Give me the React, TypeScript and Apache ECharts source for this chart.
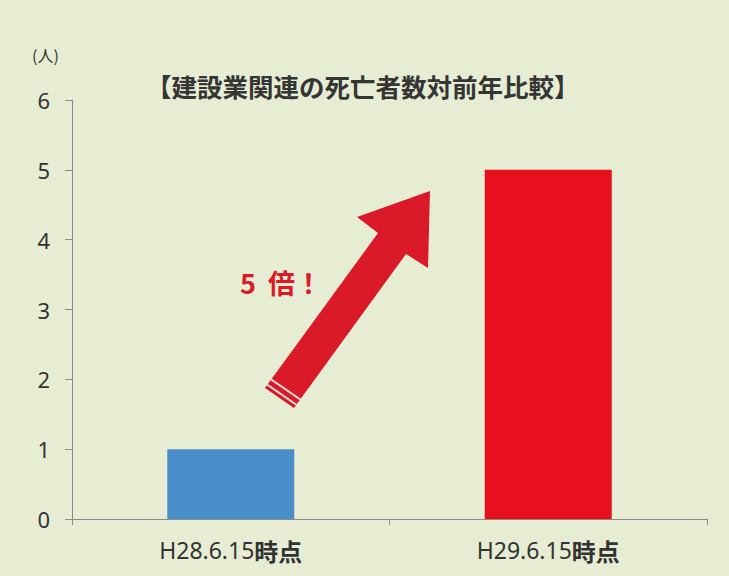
import React, { useEffect, useRef } from "react";
import * as echarts from "echarts";

const categories = ["H28.6.15時点", "H29.6.15時点"];
const deaths = [1, 5];
const barColors = ["#4a8fcb", "#e8101c"];
const yTicks = [0, 1, 2, 3, 4, 5, 6];
const titleText = "【建設業関連の死亡者数対前年比較】";
const unitText = "(人)";
const noteNumber = "5";
const noteWord = "倍！";

export default function App() {
  const ref = useRef<HTMLDivElement>(null);
  useEffect(() => {
    if (!ref.current) return;
    const chart = echarts.init(ref.current, undefined, { renderer: "svg" });
    const arrowRed = "#da1a28";
    chart.setOption({
      animation: false,
      backgroundColor: "#e7edd3",
      grid: { left: 72, right: 22, top: 100, bottom: 57 },
      xAxis: {
        type: "category",
        data: categories,
        axisLine: { lineStyle: { color: "#8a8a8a", width: 1 } },
        axisTick: { show: true, length: 6, lineStyle: { color: "#8a8a8a" } },
        axisLabel: {
          margin: 19,
          formatter: (v: string) => {
            const m = v.match(/^([^\u3000-\u9fff]+)(.*)$/);
            return m ? `{a|${m[1]}}{b|${m[2]}}` : v;
          },
          rich: {
            a: { fontFamily: "Noto Sans", fontSize: 23, color: "#333" },
            b: { fontFamily: "Noto Sans CJK JP", fontSize: 24, fontWeight: "bold", color: "#333" },
          },
        },
      },
      yAxis: {
        type: "value",
        min: yTicks[0],
        max: yTicks[yTicks.length - 1],
        interval: 1,
        axisLine: { show: true, lineStyle: { color: "#8a8a8a", width: 1 } },
        axisTick: { show: true, length: 7, lineStyle: { color: "#8a8a8a" } },
        splitLine: { show: false },
        axisLabel: { margin: 22, fontFamily: "Noto Sans", fontSize: 22, color: "#333" },
      },
      series: [
        {
          type: "bar",
          barWidth: "40%",
          data: deaths.map((v, i) => ({ value: v, itemStyle: { color: barColors[i] } })),
        },
      ],
      graphic: [
        {
          type: "text",
          left: 146,
          top: 73,
          style: {
            text: titleText,
            fontFamily: "Noto Sans CJK JP",
            fontSize: 25.5,
            fontWeight: "bold",
            fill: "#353535",
          },
        },
        {
          type: "text",
          left: 32,
          top: 47,
          style: { text: unitText, fontFamily: "Noto Sans CJK JP", fontSize: 16, fill: "#333" },
        },
        {
          type: "polygon",
          shape: {
            points: [
              [265, 388],
              [378, 233],
              [357, 217],
              [430, 191],
              [428, 268],
              [406, 254],
              [294, 408],
            ],
          },
          style: { fill: arrowRed },
        },
        {
          type: "line",
          shape: { x1: 267.4, y1: 384.8, x2: 296.4, y2: 404.8 },
          style: { stroke: "#f3e6dc", lineWidth: 2 },
        },
        {
          type: "line",
          shape: { x1: 271.3, y1: 379.5, x2: 300.3, y2: 399.5 },
          style: { stroke: "#f3e6dc", lineWidth: 2 },
        },
        {
          type: "text",
          left: 240,
          top: 269,
          style: {
            text: `{n|${noteNumber}}{w|${noteWord}}`,
            rich: {
              n: {
                fontFamily: "Noto Sans CJK JP",
                fontSize: 27,
                fontWeight: "bold",
                fill: arrowRed,
                color: arrowRed,
                padding: [0, 12, 0, 0],
              },
              w: {
                fontFamily: "Noto Sans CJK JP",
                fontSize: 27,
                fontWeight: "bold",
                fill: arrowRed,
                color: arrowRed,
              },
            },
          },
        },
      ],
    });
    return () => chart.dispose();
  }, []);
  return (
    <div
      ref={ref}
      style={{ position: "absolute", left: 0, top: 0, width: 729, height: 576 }}
    />
  );
}
